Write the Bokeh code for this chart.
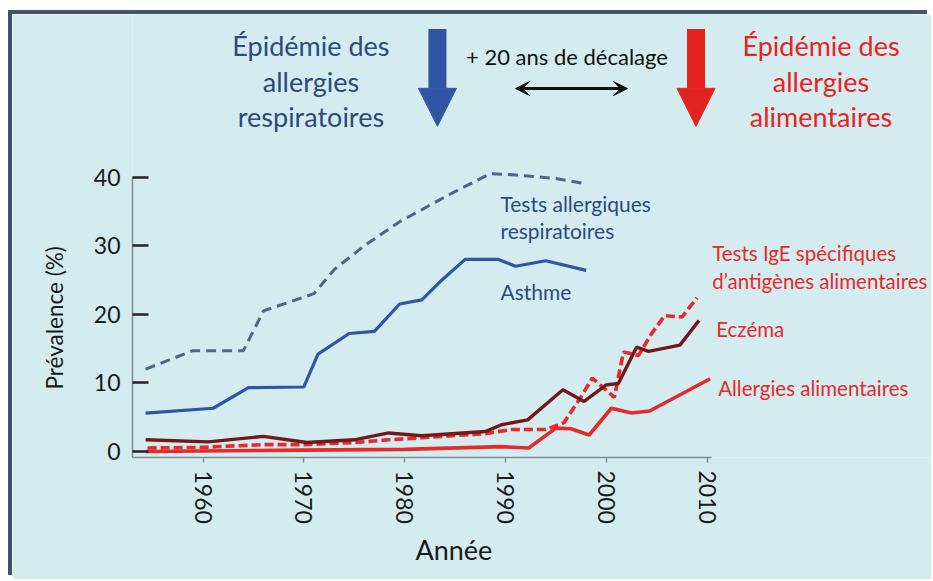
from bokeh.plotting import figure
from bokeh.models import Range1d, FixedTicker, Arrow, NormalHead, VeeHead, Title
from bokeh.embed import file_html
from bokeh.resources import INLINE
from bokeh.core.properties import value

# ---------------- data ----------------
resp_years = [1954.3, 1959, 1964, 1966, 1971, 1973, 1976, 1979.5, 1982, 1985, 1988.5, 1991, 1995, 1998]
resp_vals = [12.0, 14.7, 14.7, 20.5, 23.0, 26.5, 30.0, 33.5, 35.5, 37.9, 40.5, 40.3, 39.8, 39.0]

asthme_years = [1954.3, 1961, 1964.5, 1970, 1971.4, 1974.5, 1977, 1979.5, 1981.7, 1983.7, 1986, 1989.3, 1991, 1994, 1998]
asthme_vals = [5.6, 6.3, 9.3, 9.4, 14.2, 17.2, 17.5, 21.5, 22.1, 25.0, 28.0, 28.0, 27.0, 27.8, 26.4]

eczema_years = [1954.3, 1960.5, 1966, 1970.3, 1975, 1978.4, 1981.7, 1988, 1989.6, 1992.2, 1995.7, 1997.8, 2000, 2001.2, 2003, 2004.2, 2007.3, 2009.2]
eczema_vals = [1.7, 1.4, 2.2, 1.3, 1.7, 2.7, 2.3, 2.9, 3.9, 4.6, 9.0, 7.3, 9.7, 9.9, 15.2, 14.6, 15.5, 19.1]

ige_years = [1954.5, 1960, 1966, 1970, 1975, 1978.4, 1981.7, 1988, 1990.6, 1994, 1995.8, 1997.6, 1998.6, 2000.8, 2001.7, 2003.2, 2004.5, 2005.8, 2007.5, 2009]
ige_vals = [0.5, 0.6, 1.0, 1.0, 1.3, 1.7, 2.0, 2.6, 3.2, 3.2, 4.2, 8.2, 10.7, 7.9, 14.5, 14.0, 17.2, 19.8, 19.6, 22.4]

alim_years = [1954.3, 1970, 1980, 1989.6, 1992.3, 1995, 1996.5, 1998.3, 2000.5, 2002.5, 2004.3, 2010.3]
alim_vals = [0.0, 0.2, 0.3, 0.7, 0.5, 3.4, 3.3, 2.4, 6.3, 5.6, 5.9, 10.6]

x_ticks = [1960, 1970, 1980, 1990, 2000, 2010]
y_ticks = [0, 10, 20, 30, 40]

# series labels
blue_labels = ["Tests allergiques", "respiratoires", "Asthme"]
blue_label_x = [1989.5, 1989.5, 1989.5]
blue_label_y = [36.2, 32.2, 23.3]

red_labels = ["Tests IgE spécifiques", "d\u2019antigènes alimentaires", "Eczéma", "Allergies alimentaires"]
red_label_x = [2010.5, 2010.5, 2010.9, 2011.1]
red_label_y = [29.0, 24.9, 17.9, 9.2]

# header texts
head_left = ["Épidémie des", "allergies", "respiratoires"]
head_right = ["Épidémie des", "allergies", "alimentaires"]
head_left_x = [1970.7] * 3
head_right_x = [2021.3] * 3
head_y = [59.2, 53.9, 48.9]
shift_text = ["+ 20 ans de décalage"]

x_title = "Année"
y_title = "Prévalence (%)"

BLUE = "#2f55a4"
BLUE_TXT = "#2c4a80"
DASH_BLUE = "#4f6588"
RED = "#e52a2a"
DARK_RED = "#721818"
BG = "#d4ecef"
FONT = "Lato"

p = figure(width=919, height=565, output_backend="svg", toolbar_location=None,
           x_range=Range1d(1953.0, 2032.26), y_range=Range1d(-0.88, 63.7),
           min_border_left=120, min_border_right=0, min_border_top=0, min_border_bottom=122)
p.background_fill_color = BG
p.border_fill_color = BG
p.outline_line_color = None
p.xgrid.visible = False
p.ygrid.visible = False
p.styles = {"margin-top": "14px", "margin-left": "12px",
            "box-shadow": "-4px -4px 0 0 #3d5470"}

# axes
p.yaxis.ticker = FixedTicker(ticks=y_ticks)
p.yaxis.bounds = (-0.88, 40)
p.yaxis.axis_line_color = "#7d8c98"
p.yaxis.axis_line_width = 1.5
p.yaxis.major_tick_line_color = "#222222"
p.yaxis.major_tick_line_width = 2.5
p.yaxis.major_tick_in = 16
p.yaxis.major_tick_out = 0
p.yaxis.minor_tick_line_color = None
p.yaxis.major_label_standoff = 12
p.yaxis.major_label_text_font = FONT
p.yaxis.major_label_text_font_size = "23px"
p.yaxis.major_label_text_color = "#1a1a1a"

p.xaxis.ticker = FixedTicker(ticks=x_ticks)
p.xaxis.bounds = (1953.0, 2010.4)
p.xaxis.axis_line_color = "#7d8c98"
p.xaxis.axis_line_width = 1.5
p.xaxis.major_tick_line_color = "#7d8c98"
p.xaxis.major_tick_line_width = 1.5
p.xaxis.major_tick_in = 0
p.xaxis.major_tick_out = 5
p.xaxis.minor_tick_line_color = None
p.xaxis.major_label_orientation = "vertical"
p.xaxis.major_label_standoff = 8
p.xaxis.major_label_text_font = FONT
p.xaxis.major_label_text_font_size = "23px"
p.xaxis.major_label_text_color = "#1a1a1a"

# axis titles (placed like the original, off-centre)
p.add_layout(Title(text=x_title, align="left", offset=283, standoff=8,
                   text_font=FONT, text_font_size="27px", text_font_style="normal",
                   text_color="#1a1a1a"), "below")
p.add_layout(Title(text=y_title, align="left", offset=68, standoff=46,
                   text_font=FONT, text_font_size="22.5px", text_font_style="normal",
                   text_color="#1a1a1a"), "left")

# series
p.line(resp_years, resp_vals, line_color=DASH_BLUE, line_width=3, line_dash="10 6")
p.line(asthme_years, asthme_vals, line_color=BLUE, line_width=3.2)
p.line(alim_years, alim_vals, line_color=RED, line_width=3.6)
p.line(ige_years, ige_vals, line_color=RED, line_width=3.6, line_dash="9 4")
p.line(eczema_years, eczema_vals, line_color=DARK_RED, line_width=3.4)

# labels
p.text(blue_label_x, blue_label_y, text=blue_labels, text_font=value(FONT), text_font_size="21px",
       text_color=BLUE_TXT, text_baseline="middle", text_align="left")
p.text(red_label_x, red_label_y, text=red_labels, text_font=value(FONT), text_font_size="20.5px",
       text_color=RED, text_baseline="middle", text_align="left")
p.text(head_left_x, head_y, text=head_left, text_font=value(FONT), text_font_size="27px",
       text_color=BLUE_TXT, text_baseline="middle", text_align="center")
p.text(head_right_x, head_y, text=head_right, text_font=value(FONT), text_font_size="27px",
       text_color="#e8231f", text_baseline="middle", text_align="center")
p.text([1996.1], [57.6], text=shift_text, text_font=value(FONT), text_font_size="22px",
       text_color="#111111", text_baseline="middle", text_align="center")

# arrows
p.add_layout(Arrow(x_start=1983.25, y_start=61.6, x_end=1983.25, y_end=47.4,
                   line_color=BLUE, line_width=18,
                   end=NormalHead(size=38, fill_color=BLUE, line_color=BLUE)))
p.add_layout(Arrow(x_start=2008.9, y_start=61.6, x_end=2008.9, y_end=47.4,
                   line_color="#e3211f", line_width=18,
                   end=NormalHead(size=38, fill_color="#e3211f", line_color="#e3211f")))
p.add_layout(Arrow(x_start=1991.0, y_start=52.9, x_end=2002.1, y_end=52.9,
                   line_color="#111111", line_width=3,
                   start=VeeHead(size=14, fill_color="#111111", line_color="#111111"),
                   end=VeeHead(size=14, fill_color="#111111", line_color="#111111")))

open("out.html", "w").write(file_html(p, INLINE))
